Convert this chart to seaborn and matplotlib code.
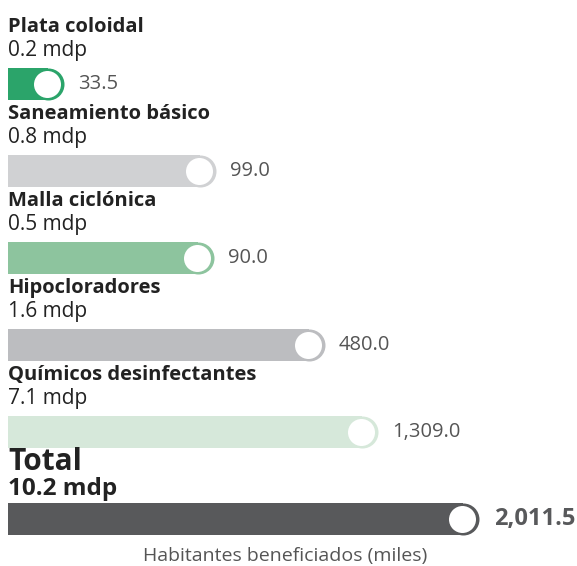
import matplotlib
matplotlib.use("Agg")
import matplotlib.pyplot as plt
import seaborn as sns
import pandas as pd

# data
categories = ["Plata coloidal", "Saneamiento básico", "Malla ciclónica",
              "Hipocloradores", "Químicos desinfectantes", "Total"]
mdp_labels = ["0.2 mdp", "0.8 mdp", "0.5 mdp", "1.6 mdp", "7.1 mdp", "10.2 mdp"]
beneficiados = [33.5, 99.0, 90.0, 480.0, 1309.0, 2011.5]
# drawn bar lengths (the source does not scale them linearly)
bar_len = [56, 208, 206, 317, 370, 471]
colors = ["#2BA46A", "#D0D1D3", "#8DC49E", "#BCBDC0", "#D6E8DA", "#58595B"]

df = pd.DataFrame({"cat": categories, "len": bar_len, "val": beneficiados})

sns.set_style("white")
plt.rcParams["font.family"] = ["Open Sans", "DejaVu Sans"]

fig = plt.figure(figsize=(5.77, 5.66), dpi=100)
ax = fig.add_axes([0, 0, 1, 1])

sns.barplot(data=df, x="len", y="cat", hue="cat", palette=colors,
            order=categories, legend=False, width=32 / 87, ax=ax,
            saturation=1, linewidth=0)

ax.set_xlim(-8, 569)
ax.set_ylim((566 - 84) / 87, -84 / 87)
ax.axis("off")

cap = 16  # rounded end radius in px
for i, p in enumerate(ax.patches):
    w = p.get_width()
    p.set_width(w - cap)
    ax.scatter(w - cap, i, s=(32 * 0.72) ** 2, color=colors[i], lw=0, zorder=3)
    ax.scatter(w - cap - 1, i, s=(27 * 0.72) ** 2, color="white", lw=0, zorder=4)

for i, (c, m, v, w) in enumerate(zip(categories, mdp_labels, beneficiados, bar_len)):
    is_total = c == "Total"
    if is_total:
        ax.text(0, i - 0.655, c, fontsize=21.5, fontweight="bold", color="#222222", va="center")
        ax.text(0, i - 0.345, m, fontsize=17.5, fontweight="bold", color="#222222", va="center")
        ax.text(w + 15, i, f"{v:,.1f}", fontsize=17, fontweight="bold", color="#58595B", va="center")
    else:
        ax.text(0, i - 0.66, c, fontsize=14.5, fontweight="bold", color="#222222", va="center")
        ax.text(0, i - 0.39, m, fontsize=15, color="#222222", va="center")
        ax.text(w + 14, i, f"{v:,.1f}", fontsize=14.5, color="#555555", va="center")

fig.text(0.495, 0.018, "Habitantes beneficiados (miles)", fontsize=14,
         color="#555555", ha="center", va="center")

plt.savefig("out.png", dpi=100)
